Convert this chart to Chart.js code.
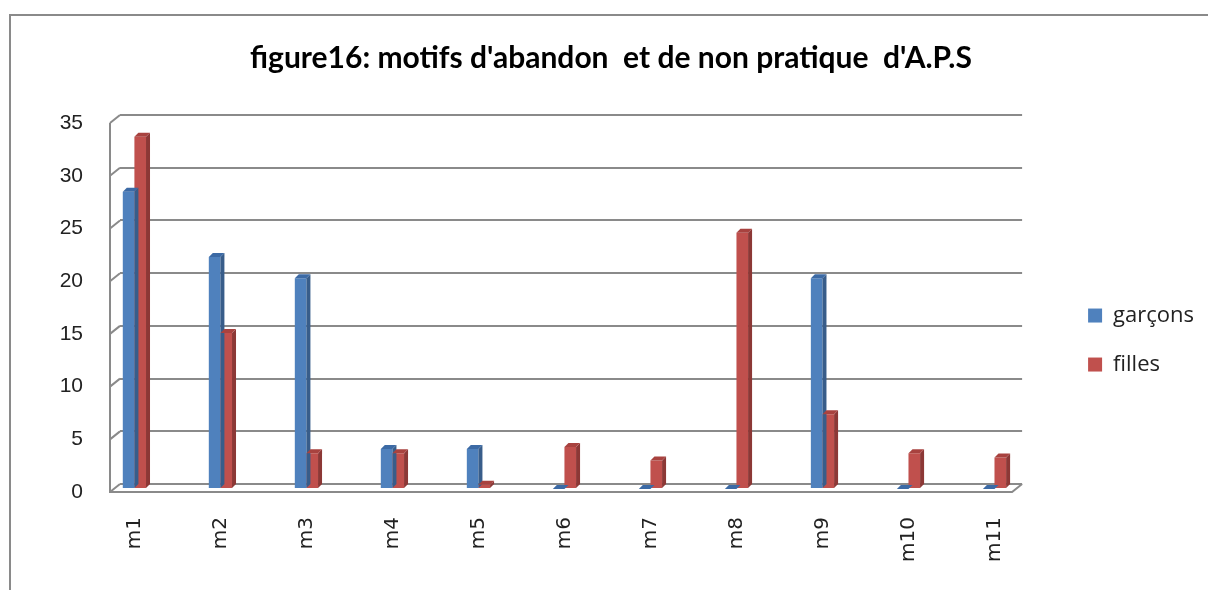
<!DOCTYPE html>
<html>
<head>
<meta charset="utf-8">
<script src="https://cdn.jsdelivr.net/npm/chart.js@4/dist/chart.umd.min.js"></script>
<style>
  body { margin: 0; background: #fff; }
  #wrap { width: 1208px; height: 590px; }
</style>
</head>
<body>
<div id="wrap"><canvas id="chart" width="1208" height="590"></canvas></div>
<script>
var categories = ['m1', 'm2', 'm3', 'm4', 'm5', 'm6', 'm7', 'm8', 'm9', 'm10', 'm11'];
var garcons = [28.2, 22, 20, 3.8, 3.8, 0, 0, 0, 20, 0, 0];
var filles = [33.4, 14.8, 3.4, 3.4, 0.4, 4, 2.7, 24.3, 7.1, 3.4, 3];
var yTicks = [0, 5, 10, 15, 20, 25, 30, 35];

var sideColors = ['#385d8a', '#8c3836'];
var topColors = ['#3c6aa5', '#a8423f'];
var gridColor = '#8a8a8a';

// 3d look: the front plane sits lower left of the back wall
var front = { dx: -10, dy: 8 };
var barShift = 5;
var depth = 4;

// border round the whole chart, like the office frame
var framePlugin = {
    id: 'frame',
    beforeDraw: function (chart) {
        var ctx = chart.ctx;
        ctx.save();
        ctx.fillStyle = '#fff';
        ctx.fillRect(0, 0, chart.width, chart.height);
        ctx.strokeStyle = gridColor;
        ctx.lineWidth = 2;
        ctx.strokeRect(10, 15, chart.width + 10, chart.height + 10);
        ctx.restore();
    },
    afterLayout: function (chart) {
        // category axis lives on the front plane, a bit wider than the back wall
        var xs = chart.scales.x;
        var a = chart.chartArea;
        xs.left = a.left - 28.6;
        xs.right = a.right + 15.4;
        xs.width = xs.right - xs.left;
        xs.configure();
    },
    beforeDatasetsDraw: function (chart) {
        var ctx = chart.ctx;
        var a = chart.chartArea;
        var ys = chart.scales.y;
        ctx.save();
        ctx.strokeStyle = gridColor;
        ctx.lineWidth = 2;
        // left edge and the slanted ticks
        ctx.beginPath();
        ctx.moveTo(a.left + front.dx, a.top + front.dy);
        ctx.lineTo(a.left + front.dx, a.bottom + front.dy);
        ctx.lineTo(a.right + front.dx, a.bottom + front.dy);
        ctx.lineTo(a.right, a.bottom);
        yTicks.forEach(function (v) {
            var y = ys.getPixelForValue(v);
            ctx.moveTo(a.left + front.dx, y + front.dy);
            ctx.lineTo(a.left, y);
        });
        ctx.stroke();
        ctx.restore();
        ctx.save();
        ctx.translate(0, barShift);
    },
    afterDatasetsDraw: function (chart) {
        var ctx = chart.ctx;
        chart.data.datasets.forEach(function (ds, i) {
            var meta = chart.getDatasetMeta(i);
            meta.data.forEach(function (bar) {
                var left = bar.x - bar.width / 2;
                var right = bar.x + bar.width / 2;
                var top = bar.y;
                var base = bar.base;
                ctx.fillStyle = sideColors[i];
                ctx.beginPath();
                ctx.moveTo(right, top);
                ctx.lineTo(right + depth, top - depth);
                ctx.lineTo(right + depth, base - depth);
                ctx.lineTo(right, base);
                ctx.closePath();
                ctx.fill();
                ctx.fillStyle = topColors[i];
                ctx.beginPath();
                ctx.moveTo(left, top);
                ctx.lineTo(left + depth, top - depth);
                ctx.lineTo(right + depth, top - depth);
                ctx.lineTo(right, top);
                ctx.closePath();
                ctx.fill();
            });
        });
        ctx.restore();
    }
};

new Chart(document.getElementById('chart'), {
    type: 'bar',
    data: {
        labels: categories,
        datasets: [
            {
                label: 'garçons',
                data: garcons,
                backgroundColor: '#4f81bd',
                borderWidth: 0,
                categoryPercentage: 0.27,
                barPercentage: 1
            },
            {
                label: 'filles',
                data: filles,
                backgroundColor: '#c0504d',
                borderWidth: 0,
                categoryPercentage: 0.27,
                barPercentage: 1
            }
        ]
    },
    options: {
        responsive: false,
        animation: false,
        layout: { padding: { top: 20, left: 18, right: 4, bottom: 3 } },
        plugins: {
            title: {
                display: true,
                text: "figure16: motifs d'abandon  et de non pratique  d'A.P.S",
                color: '#000',
                font: { family: 'Lato', size: 30, weight: 'bold' },
                padding: { top: 20, bottom: 39 }
            },
            legend: {
                position: 'right',
                fullSize: false,
                title: {
                    display: true,
                    text: ' ',
                    font: { size: 10 },
                    padding: { top: 69, bottom: 0 }
                },
                labels: {
                    color: '#222',
                    boxWidth: 14,
                    boxHeight: 14,
                    padding: 27,
                    font: { family: 'Open Sans', size: 22 }
                }
            },
            tooltip: { enabled: false }
        },
        scales: {
            x: {
                grid: { display: false },
                border: { display: false },
                ticks: {
                    color: '#222',
                    minRotation: 90,
                    maxRotation: 90,
                    padding: 25,
                    font: { family: 'DejaVu Sans', size: 20 }
                }
            },
            y: {
                min: 0,
                max: 35,
                afterBuildTicks: function (axis) {
                    axis.ticks = yTicks.map(function (v) { return { value: v }; });
                },
                afterFit: function (scale) { scale.width = 102; },
                grid: { color: gridColor, lineWidth: 2, tickLength: 10, tickColor: 'rgba(0,0,0,0)' },
                border: { display: false },
                ticks: {
                    color: '#222',
                    padding: 27,
                    labelOffset: 8,
                    font: { family: 'Liberation Sans', size: 21 }
                }
            },
            // empty gap between plot and legend
            gap: {
                type: 'linear',
                axis: 'y',
                position: 'right',
                display: true,
                grid: { display: false },
                border: { display: false },
                ticks: { display: false },
                afterFit: function (scale) { scale.width = 39; }
            }
        }
    },
    plugins: [framePlugin]
});
</script>
</body>
</html>
